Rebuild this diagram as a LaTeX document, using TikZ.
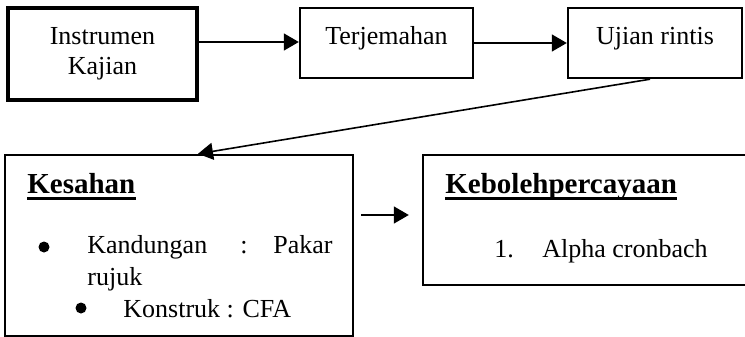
\documentclass[tikz,border=0pt]{standalone}
\usepackage{fontspec}
\setmainfont{Liberation Serif}
\usetikzlibrary{arrows.meta}

\begin{document}
\begin{tikzpicture}[x=0.5pt, y=-0.5pt,
    font=\fontsize{13}{15}\selectfont,
    kotak/.style={draw, line width=1.2pt, inner sep=0pt, align=center},
    panah/.style={-{Triangle[length=7.5pt, width=8.5pt]}, line width=0.8pt},
    teks/.style={anchor=base west, inner sep=0pt},
    tajuk/.style={teks, font=\fontsize{14.5}{16}\selectfont\bfseries},
    garis/.style={line width=1.5pt},
    titik/.style={circle, fill, inner sep=0pt, minimum size=5.5pt}]
    \useasboundingbox (0,0) rectangle (745,337);
    \clip (0,0) rectangle (745,337);
    % baris atas
    \node[kotak, line width=2pt, minimum width=94.5pt, minimum height=46pt, text height=22pt, text depth=1pt] (instrumen) at (102.5,54) {Instrumen\\Kajian};
    \node[kotak, minimum width=86.5pt, minimum height=35pt, text height=7pt, text depth=5pt] (terjemahan) at (386.5,43) {Terjemahan};
    \node[kotak, minimum width=87pt, minimum height=35pt, text height=7pt, text depth=5pt] (rintis) at (655,43) {Ujian rintis};
    \draw[panah] (instrumen.east |- 0,42) -- (terjemahan.west |- 0,42);
    \draw[panah] (terjemahan.east) -- (rintis.west);

    % kotak bawah
    \node[kotak, minimum width=174pt, minimum height=90.5pt] (kesahan) at (179,245.5) {};
    \node[kotak, minimum width=168.5pt, minimum height=65pt] (kebolehan) at (591.5,220) {};
    \draw[panah] ([xshift=-2.5pt]rintis.south) -- ([xshift=9.5pt]kesahan.north);
    \draw[panah] ([xshift=3.5pt, yshift=2.5pt]kesahan.east |- kebolehan.west) -- ([xshift=-6.5pt, yshift=2.5pt]kebolehan.west);

    % isi Kesahan
    \node[tajuk] (tajukA) at (27,193) {Kesahan};
    \draw[garis] ([yshift=-2.5pt]tajukA.base west) -- ([yshift=-2.5pt]tajukA.base east);
    \node[titik] (titikA) at (44,247) {};
    \node[teks] (kandungan) at (87,253) {Kandungan};
    \node[teks] (koloncA) at (240,253) {:};
    \node[teks, anchor=base east] (pakar) at (333,253) {Pakar};
    \node[teks] (rujuk) at (87,285) {rujuk};
    \node[titik] (titikB) at (81,308) {};
    \node[teks] (konstruk) at (123,317) {Konstruk : CFA};

    % isi Kebolehpercayaan
    \node[tajuk] (tajukB) at (445,193) {Kebolehpercayaan};
    \draw[garis] ([yshift=-2.5pt]tajukB.base west) -- ([yshift=-2.5pt]tajukB.base east);
    \node[teks] (nomborA) at (494,257) {1.};
    \node[teks] (alpha) at (542,257) {Alpha cronbach};
\end{tikzpicture}
\end{document}
